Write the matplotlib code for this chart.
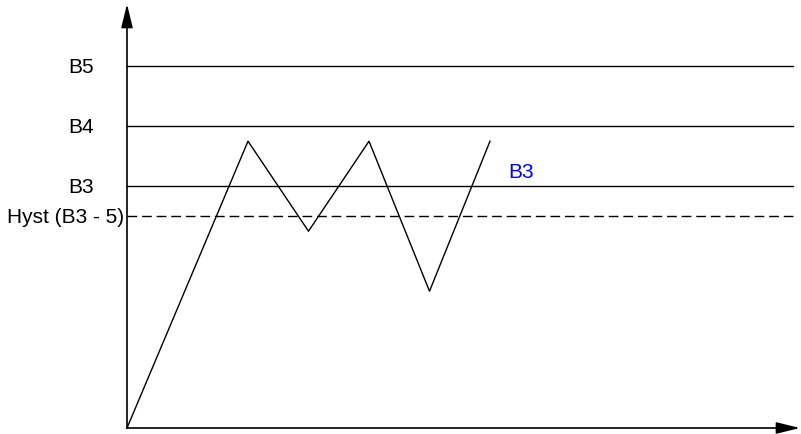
import matplotlib
matplotlib.use("Agg")
import matplotlib.pyplot as plt

# ── Data ──────────────────────────────────────────────────────────────────────
level_names  = ["B5", "B4", "B3"]
level_values = [6.03, 5.03, 4.03]
hyst_label   = "Hyst (B3 - 5)"
hyst_value   = 3.53

signal_t = [0, 2, 3, 4, 5, 6]
signal_v = [0, 4.78, 3.28, 4.78, 2.28, 4.78]

# ── Layout (origin at pixel 127,429; 60.5 px per x unit, 60 px per y unit) ──
W, H = 801, 435
X0, Y0 = 127, 429
XS, YS = 60.5, 60.0
INK = "#000000"
FS = 15

plt.rcParams["font.family"] = ["Liberation Sans", "DejaVu Sans"]

fig = plt.figure(figsize=(W / 100, H / 100), dpi=100, facecolor="white")
ax = fig.add_axes([X0 / W, (H - Y0) / H, (W - X0) / W, Y0 / H])
ax.set_xlim(0, (W - X0) / XS)
ax.set_ylim(0, Y0 / YS)
ax.axis("off")

x_end = (793 - X0) / XS

for name, v in zip(level_names, level_values):
    ax.plot([0, x_end], [v, v], color=INK, lw=1.0, clip_on=False)
    ax.text(-0.545, v, name, ha="right", va="center", fontsize=FS, color=INK)

ax.plot([0, x_end + 0.03], [hyst_value, hyst_value], color=INK, lw=1.0,
        dashes=(7, 3.5), clip_on=False)
ax.text(-0.05, hyst_value, hyst_label, ha="right", va="center", fontsize=FS, color=INK)

ax.plot(signal_t, signal_v, color=INK, lw=1.0, clip_on=False)
ax.text(6.3, 4.27, "B3", ha="left", va="center", fontsize=FS, color="#0000FF")

# axes arrows
arrow = dict(arrowstyle="-|>,head_length=0.9,head_width=0.22", color=INK, lw=1.2,
             shrinkA=0, shrinkB=0, mutation_scale=16)
ax.annotate("", xy=(0, (Y0 - 5) / YS), xytext=(0, 0), arrowprops=arrow,
            annotation_clip=False)
ax.annotate("", xy=((800 - X0) / XS, 0), xytext=(0, 0), arrowprops=arrow,
            annotation_clip=False)

fig.savefig("out.png", dpi=100, facecolor="white")
